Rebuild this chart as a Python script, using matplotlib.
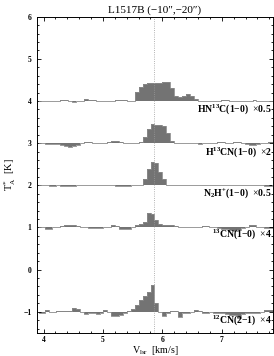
import numpy as np
import matplotlib
matplotlib.use("Agg")
import matplotlib.pyplot as plt
from matplotlib.ticker import MultipleLocator

plt.rcParams['font.family'] = ['Liberation Serif', 'DejaVu Serif']
plt.rcParams['mathtext.fontset'] = 'custom'
plt.rcParams['mathtext.rm'] = 'Liberation Serif'
plt.rcParams['mathtext.it'] = 'Liberation Serif:italic'
plt.rcParams['mathtext.bf'] = 'Liberation Serif:bold'

# ---- data ----
v_start = 3.92      # km/s, centre of first channel
dv = 0.066          # km/s channel width
n_chan = 61
velocity = v_start + dv * np.arange(n_chan)

v_line = 5.86       # systemic velocity (dotted line)

hn13c = [0.0, -0.01, -0.01, -0.01, 0.0, 0.01, 0.02, 0.02, 0.0, -0.02, -0.01, 0.01, 0.04,
         0.03, 0.02, 0.01, 0.01, -0.01, -0.01, 0.01, 0.03, 0.03, 0.03, 0.01, 0.01,
         0.22, 0.33, 0.40, 0.43, 0.43, 0.42, 0.42, 0.44, 0.44, 0.30, 0.12, 0.09, 0.13,
         0.16, 0.12, 0.05, 0.0,
         -0.01, -0.01, -0.01, 0.0, 0.01, 0.02, 0.02, 0.0, -0.01, -0.01, -0.01, 0.0,
         0.01, 0.02, 0.01, 0.0, -0.01, -0.01, 0.0]

h13cn = [0.0, 0.0, -0.01, -0.02, -0.02, -0.01, -0.04, -0.07, -0.08, -0.07, -0.04, 0.01,
         0.02, 0.02, 0.01, 0.0, 0.0, 0.01, 0.03, 0.06, 0.05, 0.02, 0.01, 0.01, 0.0, 0.0,
         0.02,
         0.14, 0.34, 0.45, 0.44, 0.43, 0.41, 0.23, 0.06,
         0.01, 0.0, 0.01, 0.01, 0.01, 0.0, -0.01, 0.0, 0.0, 0.01, 0.01, 0.02, 0.02, 0.0,
         0.01, 0.02, 0.02, 0.0, -0.01, -0.04, -0.05, -0.02, 0.0, 0.01, 0.02, 0.02]

n2hp = [0.0, 0.0, 0.0, -0.01, -0.01, 0.0, -0.01, -0.01, -0.01, -0.01, 0.0, 0.0, 0.01,
        0.01, 0.01, 0.01, 0.0, 0.0, 0.0, 0.0, -0.01, -0.01, -0.01, -0.01, 0.0, 0.0, 0.01,
        0.14, 0.38, 0.56, 0.52, 0.32, 0.14, 0.01,
        0.0, 0.0, 0.0, 0.0, 0.0, 0.0, 0.0, 0.0, 0.0, 0.0, 0.0, 0.0, 0.0, 0.0, 0.0, 0.0,
        0.0, 0.0, 0.01, 0.01, 0.01, 0.0, 0.0, 0.0, -0.01, -0.01, 0.0]

cn13 = [0.0, 0.0, -0.04, -0.04, 0.0, 0.01, 0.03, 0.07, 0.07, 0.06, 0.04, 0.02, 0.01,
        -0.02, -0.02, -0.01, -0.02, 0.0, 0.01, 0.05, 0.04, -0.03, -0.04, -0.03, 0.0,
        0.05, 0.08, 0.14, 0.34, 0.32, 0.18, 0.08, 0.06, 0.05, 0.05, 0.04, 0.02,
        0.02, 0.01, 0.0, 0.0, 0.01, 0.03, 0.04, 0.02, 0.0, -0.01, -0.03, -0.04, -0.05,
        -0.08, -0.06, -0.01, 0.0, 0.05, 0.07, 0.02, 0.0, -0.01, -0.02, -0.02]

cn12 = [-0.02, -0.04, 0.04, 0.0, -0.01, 0.01, 0.01, 0.01, 0.01, 0.08, 0.06, 0.0, -0.05,
        -0.02, -0.02, -0.06, -0.02, 0.05, 0.0, -0.10, -0.10, -0.08, -0.02, 0.02,
        0.07, 0.16, 0.27, 0.37, 0.48, 0.63, 0.20, 0.0,
        -0.10, -0.02, 0.03, 0.02, -0.13, -0.04, -0.03, -0.01, 0.04, 0.01, -0.02, -0.02,
        -0.01, -0.02, -0.03, -0.04, -0.05, -0.08, -0.08, -0.15, -0.05, -0.02, -0.04,
        -0.04, -0.03, 0.0, 0.05, 0.05, 0.05]

spectra = [hn13c, h13cn, n2hp, cn13, cn12]
baselines = [4, 3, 2, 1, -1]
labels = [r"HN$^{\mathbf{13}}$C(1$-$0)  $\times$0.5",
          r"H$^{\mathbf{13}}$CN(1$-$0)  $\times$2",
          r"N$_{\mathbf{2}}$H$^{\mathbf{+}}$(1$-$0)  $\times$0.5",
          r"$^{\mathbf{13}}$CN(1$-$0)  $\times$4",
          r"$^{\mathbf{12}}$CN(2$-$1)  $\times$4"]
label_y = [3.82, 2.79, 1.81, 0.84, -1.20]

title = "L1517B (\u221210\u2033,\u221220\u2033)"

# ---- figure ----
fig = plt.figure(figsize=(2.74, 3.56), dpi=100)
ax = fig.add_axes([0.135, 0.065, 0.861, 0.888])

gray = '#737373'
for vals, base in zip(spectra, baselines):
    y = base + np.asarray(vals)
    ax.fill_between(velocity, base, y, step='mid', color=gray, linewidth=0)
    ax.plot(velocity, y, drawstyle='steps-mid', color='#8a8a8a', lw=0.6)

ax.axvline(v_line, color='#9a9a9a', ls=':', lw=0.6)

for lab, ly in zip(labels, label_y):
    ax.text(7.845, ly, lab, ha='right', va='center', fontsize=7,
            fontweight='bold', family='Liberation Serif')

ax.set_xlim(3.89, 7.86)
ax.set_ylim(-1.5, 6)
ax.xaxis.set_major_locator(MultipleLocator(1))
ax.xaxis.set_minor_locator(MultipleLocator(0.2))
ax.yaxis.set_major_locator(MultipleLocator(1))
ax.yaxis.set_minor_locator(MultipleLocator(0.2))
ax.tick_params(which='both', direction='in', top=True, right=True, width=0.6)
ax.tick_params(which='major', length=3)
ax.tick_params(which='minor', length=1.5)
ax.tick_params(axis='x', labelsize=5.5, pad=2)
ax.tick_params(axis='y', labelsize=5.5, pad=4)
for t in ax.get_xticklabels() + ax.get_yticklabels():
    t.set_fontweight('bold')
for s in ax.spines.values():
    s.set_linewidth(0.7)

ax.set_title(title, fontsize=8, pad=3)
ax.set_xlabel(r"V$_{\rm lsr}$  [km/s]", fontsize=7.2, labelpad=0)
ax.set_ylabel(r"T$_{\rm A}^{*}$  [K]", fontsize=7.5, labelpad=4)

fig.savefig("out.png", dpi=100)
